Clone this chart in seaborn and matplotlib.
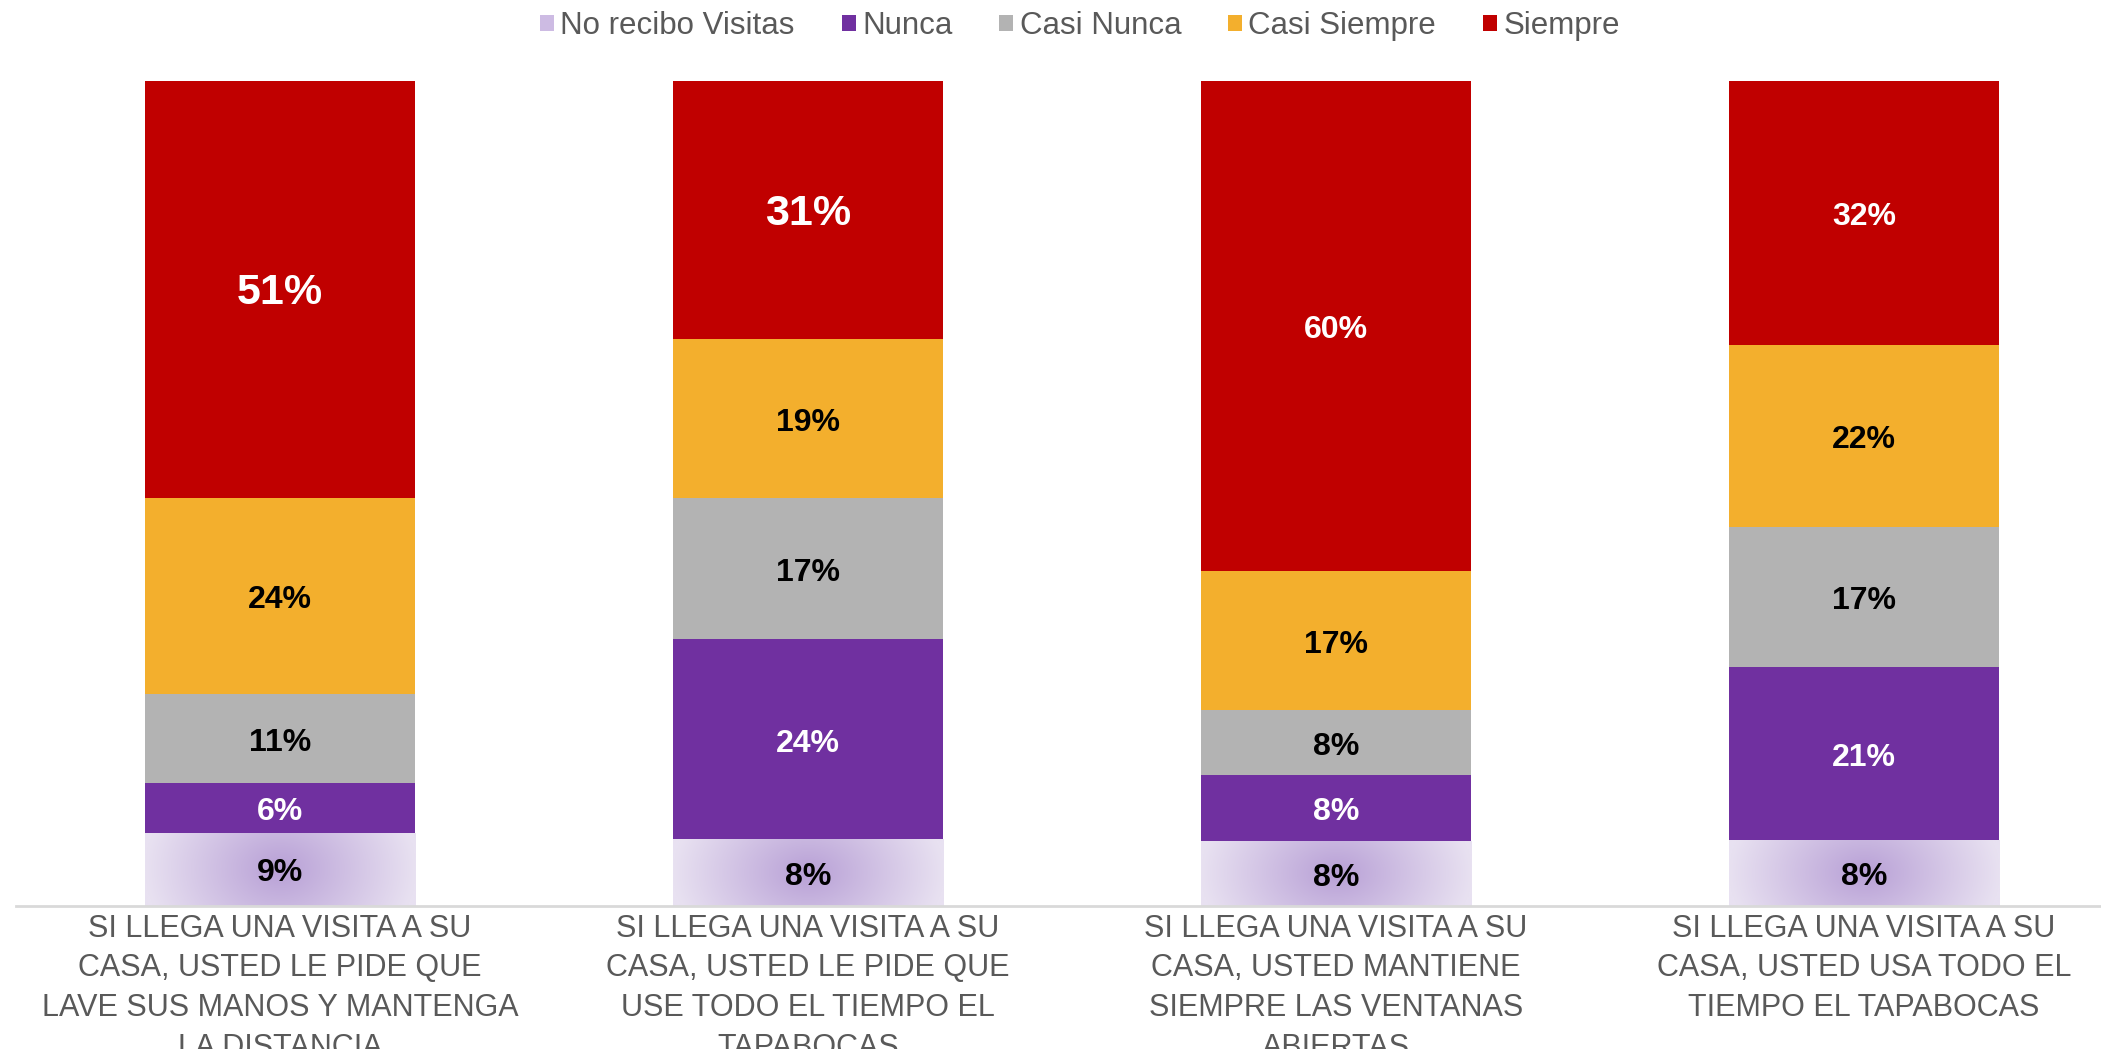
import numpy as np
import pandas as pd
import matplotlib
matplotlib.use("Agg")
import matplotlib.pyplot as plt
from matplotlib.patches import Patch
import seaborn as sns

categories = [
    "SI LLEGA UNA VISITA A SU\nCASA, USTED LE PIDE QUE\nLAVE SUS MANOS Y MANTENGA\nLA DISTANCIA",
    "SI LLEGA UNA VISITA A SU\nCASA, USTED LE PIDE QUE\nUSE TODO EL TIEMPO EL\nTAPABOCAS",
    "SI LLEGA UNA VISITA A SU\nCASA, USTED MANTIENE\nSIEMPRE LAS VENTANAS\nABIERTAS",
    "SI LLEGA UNA VISITA A SU\nCASA, USTED USA TODO EL\nTIEMPO EL TAPABOCAS",
]
series = ["No recibo Visitas", "Nunca", "Casi Nunca", "Casi Siempre", "Siempre"]
no_recibo = [9, 8, 8, 8]
nunca = [6, 24, 8, 21]
casi_nunca = [11, 17, 8, 17]
casi_siempre = [24, 19, 17, 22]
siempre = [51, 31, 60, 32]

colors = ["#CDBBE3", "#7030A0", "#B3B3B3", "#F3AF2D", "#C00000"]
label_colors = ["black", "white", "black", "black", "white"]

sns.set_style("white")
plt.rcParams["font.family"] = ["Liberation Sans", "DejaVu Sans"]

df = pd.DataFrame({"cat": categories, "No recibo Visitas": no_recibo, "Nunca": nunca,
                   "Casi Nunca": casi_nunca, "Casi Siempre": casi_siempre, "Siempre": siempre})
vals = df[series].to_numpy(dtype=float)
share = vals / vals.sum(axis=1, keepdims=True)
cum = share.cumsum(axis=1)

fig = plt.figure(figsize=(21.01, 10.49), dpi=100)
ax = fig.add_axes([16 / 2101, 0.1363, 1 - 16 / 2101, 0.9228 - 0.1363])

bw = 0.513
# draw cumulative layers from the top down so each one covers the rest
for j in range(len(series) - 1, -1, -1):
    sns.barplot(x=df["cat"], y=cum[:, j], color=colors[j], width=bw, saturation=1,
                linewidth=0, ax=ax)

# radial purple gradient on the "No recibo Visitas" segment
ny, nx = 60, 200
xx, yy = np.meshgrid(np.linspace(-1, 1, nx), np.linspace(-1, 1, ny))
r = np.clip(np.sqrt(xx ** 2 + (0.35 * yy) ** 2), 0, 1)
c_in = np.array(matplotlib.colors.to_rgb("#B8A0D6"))
c_out = np.array(matplotlib.colors.to_rgb("#E8E1F1"))
grad = c_in[None, None, :] * (1 - r[..., None]) + c_out[None, None, :] * r[..., None]
bottom_patches = ax.patches[-len(categories):]
for p in bottom_patches:
    x0, y0 = p.get_x(), p.get_y()
    im = ax.imshow(grad, extent=[x0, x0 + p.get_width(), y0, y0 + p.get_height()],
                   aspect="auto", origin="lower", zorder=p.get_zorder() + 0.1)
    im.set_clip_path(p)

# segment labels
for i in range(len(categories)):
    for j in range(len(series)):
        y_mid = cum[i, j] - share[i, j] / 2
        size = 31 if (j == 4 and i < 2) else 23
        ax.annotate(f"{int(vals[i, j])}%", (i, y_mid), xytext=(0, -3),
                    textcoords="offset points", ha="center", va="center",
                    fontsize=size, fontweight="bold", color=label_colors[j], zorder=5)

ax.set_xlim(-0.5, 3.449)
ax.set_ylim(0, 1)
ax.set_xlabel("")
ax.set_ylabel("")
ax.set_yticks([])
ax.tick_params(axis="x", length=0, pad=5.5, labelsize=22, labelcolor="#595959")
for lab in ax.get_xticklabels():
    lab.set_linespacing(1.42)
for s in ["top", "right", "left"]:
    ax.spines[s].set_visible(False)
ax.spines["bottom"].set_color("#D9D9D9")
ax.spines["bottom"].set_linewidth(2)
ax.spines["bottom"].set_zorder(6)

handles = [Patch(facecolor=c, edgecolor="none") for c in colors]
fig.legend(handles, series, loc="center", bbox_to_anchor=(0.514, 0.975), ncol=5,
           frameon=False, fontsize=22.5, labelcolor="#595959", handlelength=0.45,
           handleheight=0.45, handletextpad=0.2, columnspacing=1.5)

fig.savefig("out.png", dpi=100)
